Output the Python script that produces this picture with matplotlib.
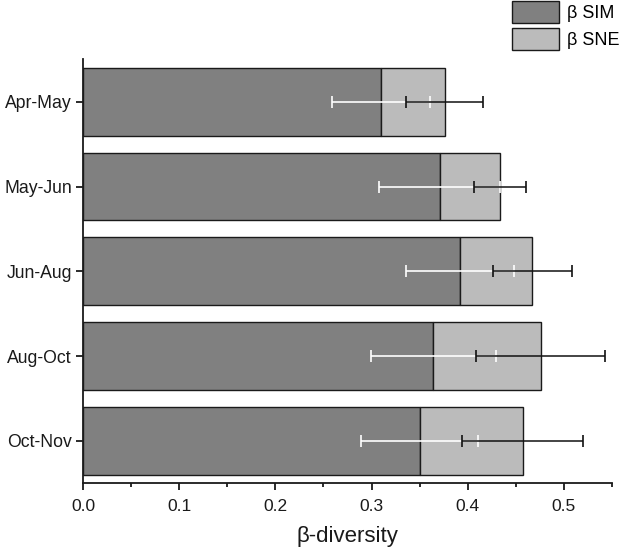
import matplotlib
matplotlib.use('Agg')
import matplotlib.pyplot as plt
from matplotlib.ticker import MultipleLocator

plt.rcParams['font.family'] = ['Liberation Sans', 'DejaVu Sans']

# beta diversity partition per period
periods = ['Apr-May', 'May-Jun', 'Jun-Aug', 'Aug-Oct', 'Oct-Nov']
sim = [0.310, 0.371, 0.392, 0.364, 0.350]
sne = [0.066, 0.063, 0.075, 0.112, 0.107]
sim_err = [0.051, 0.063, 0.056, 0.065, 0.061]
tot_err = [0.040, 0.027, 0.041, 0.067, 0.063]

sim_color = '#808080'
sne_color = '#bbbbbb'

fig = plt.figure(figsize=(6.3, 5.57), dpi=100)
ax = fig.add_axes([0.1317, 0.1323, 0.8397, 0.7612])

ypos = list(range(len(periods)))
totals = [a + b for a, b in zip(sim, sne)]

ax.barh(ypos, sim, height=0.8, color=sim_color, edgecolor='#1a1a1a',
        linewidth=1.0, label=r'β SIM', zorder=2)
ax.barh(ypos, sne, left=sim, height=0.8, color=sne_color, edgecolor='#1a1a1a',
        linewidth=1.0, label=r'β SNE', zorder=2)

# white error bars on the SIM part, black ones on the total
ax.errorbar(sim, ypos, xerr=sim_err, fmt='none', ecolor='white',
            elinewidth=1.2, capsize=4.5, capthick=1.2, zorder=3)
ax.errorbar(totals, ypos, xerr=tot_err, fmt='none', ecolor='#111111',
            elinewidth=1.1, capsize=4.5, capthick=1.2, zorder=4)

ax.set_xlim(0, 0.55)
ax.set_ylim(4.5, -0.5)
ax.set_yticks(ypos)
ax.set_yticklabels(periods)
ax.xaxis.set_major_locator(MultipleLocator(0.1))
ax.xaxis.set_minor_locator(MultipleLocator(0.05))
ax.xaxis.set_major_formatter(matplotlib.ticker.FormatStrFormatter('%.1f'))

for s in ['top', 'right']:
    ax.spines[s].set_visible(False)
for s in ['left', 'bottom']:
    ax.spines[s].set_linewidth(1.3)
    ax.spines[s].set_color('#1a1a1a')

ax.tick_params(axis='x', which='major', direction='out', length=5, width=1.3,
               labelsize=12.5, pad=6, colors='#1a1a1a')
ax.tick_params(axis='x', which='minor', direction='out', length=3, width=1.3,
               colors='#1a1a1a')
ax.tick_params(axis='y', which='major', direction='out', length=5, width=1.3,
               labelsize=12.7, pad=3, colors='#1a1a1a')

ax.set_xlabel('β-diversity', fontsize=16, labelpad=9, color='#1a1a1a')

fig.legend(loc='upper left', bbox_to_anchor=(512 / 630, 1 - 1 / 557),
           frameon=False, fontsize=13, handlelength=2.6, handleheight=1.5,
           labelspacing=0.28, handletextpad=0.45, borderpad=0, borderaxespad=0)

fig.savefig('out.png', dpi=100)
